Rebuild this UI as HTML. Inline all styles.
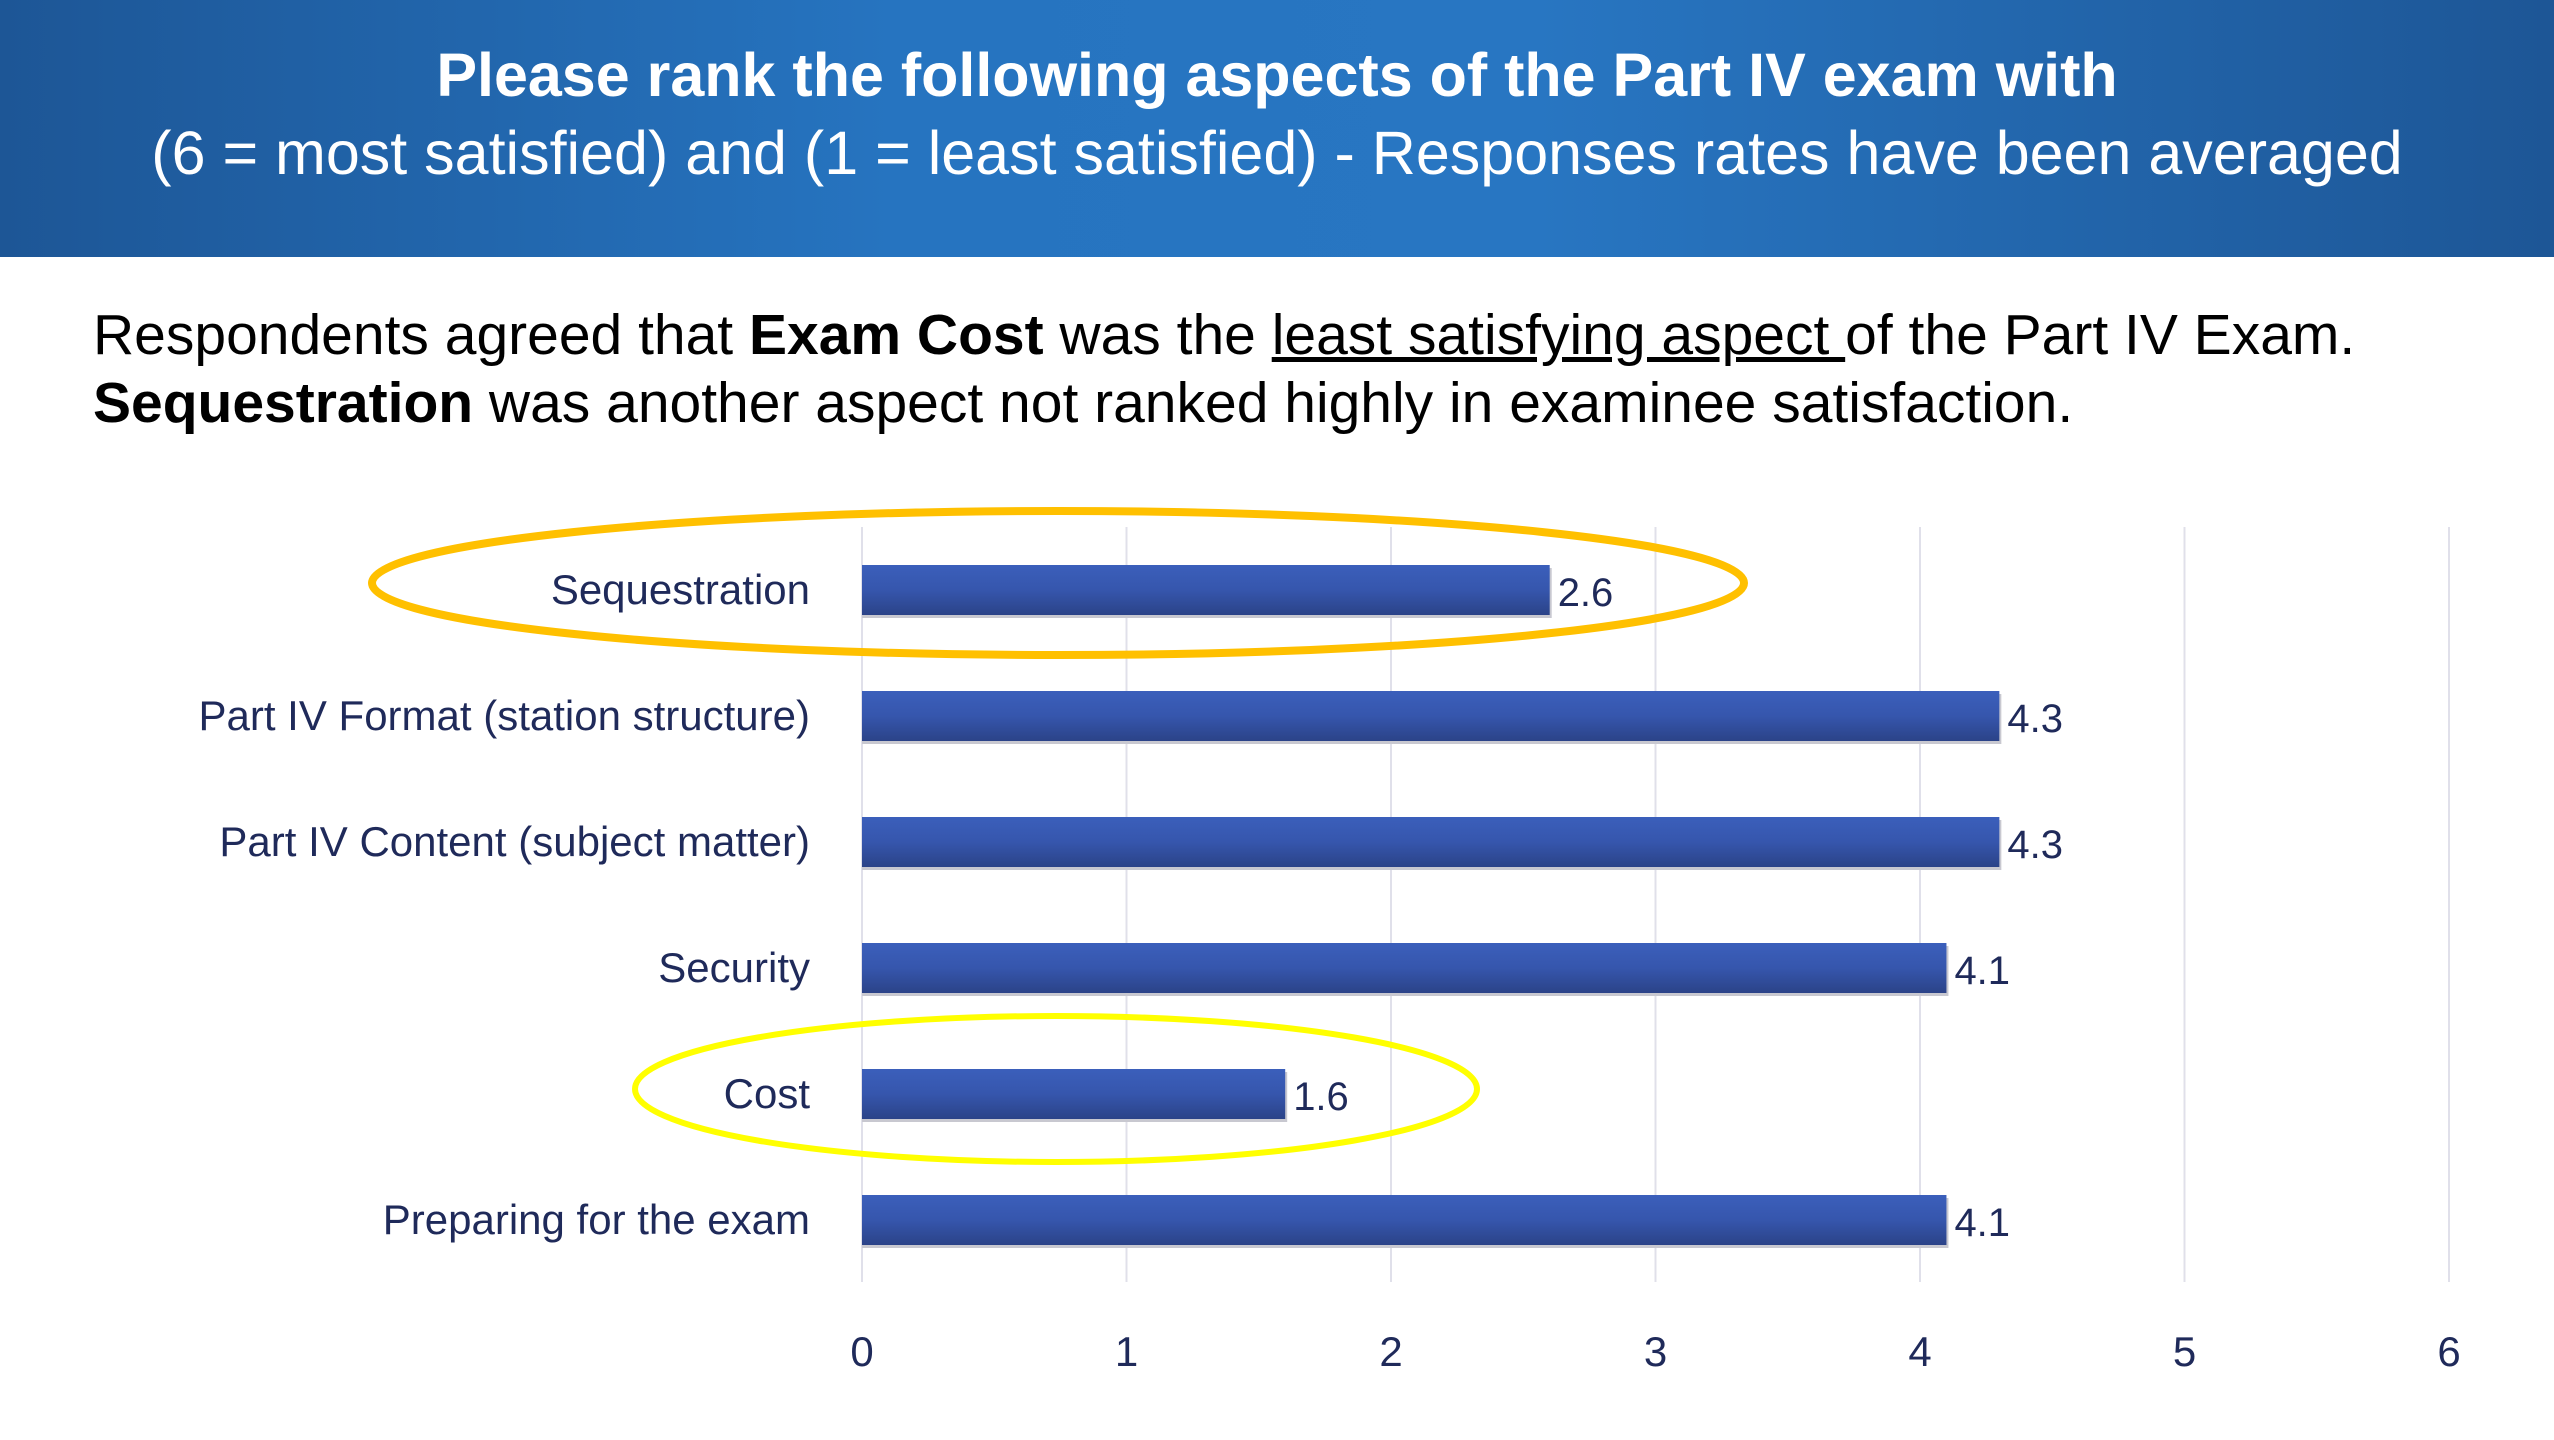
<!DOCTYPE html>
<html><head><meta charset="utf-8"><style>
html,body{margin:0;padding:0;width:2554px;height:1440px;overflow:hidden;background:#fff;font-family:"Liberation Sans",sans-serif}
#hdr{position:absolute;left:0;top:0;width:2554px;height:257px;background:linear-gradient(90deg,#1d5696 0%,#2674c0 35%,#2876c2 60%,#1d5696 100%);color:#fff;text-align:center}
#hdr div{position:absolute;left:0;width:100%;font-size:61px;white-space:nowrap}
.body{position:absolute;left:93px;font-size:57px;color:#000;white-space:nowrap}
</style></head><body>
<div id="hdr">
<div style="top:40px;font-weight:bold">Please rank the following aspects of the Part IV exam with</div>
<div style="top:118px">(6 = most satisfied) and (1 = least satisfied) - Responses rates have been averaged</div>
</div>
<div class="body" style="top:302px">Respondents agreed that <b>Exam Cost</b> was the <u>least satisfying aspect </u>of the Part IV Exam.</div>
<div class="body" style="top:370px"><b>Sequestration</b> was another aspect not ranked highly in examinee satisfaction.</div>
<svg id="chart" width="2554" height="1440" style="position:absolute;left:0;top:0">
<defs><linearGradient id="bg" x1="0" y1="0" x2="0" y2="1"><stop offset="0" stop-color="#3b5fbb"/><stop offset="0.5" stop-color="#3656ad"/><stop offset="1" stop-color="#2b4388"/></linearGradient></defs>
<g id="grid"></g><g id="bars"></g><g id="labels"></g>
<ellipse cx="1058" cy="583" rx="686" ry="72" fill="none" stroke="#FFC000" stroke-width="8"/>
<ellipse cx="1056" cy="1089" rx="421" ry="73" fill="none" stroke="#FFFF00" stroke-width="6"/>
</svg>
<script>
const categories=["Sequestration","Part IV Format (station structure)","Part IV Content (subject matter)","Security","Cost","Preparing for the exam"];
const values=[2.6,4.3,4.3,4.1,1.6,4.1];
const valueLabels=["2.6","4.3","4.3","4.1","1.6","4.1"];
const ticks=[0,1,2,3,4,5,6];
const NS="http://www.w3.org/2000/svg";
const x0=862,unit=264.5,yTop=527,yBot=1282,first=590,step=126,bh=50;
const xs=v=>x0+v*unit, ys=i=>first+i*step;
function mk(t,a,p){const e=document.createElementNS(NS,t);for(const k in a)e.setAttribute(k,a[k]);p.appendChild(e);return e;}
const g=document.getElementById('grid'),b=document.getElementById('bars'),l=document.getElementById('labels');
ticks.forEach(t=>{
 const ln=mk('line',{x1:xs(t),x2:xs(t),y1:yTop,y2:yBot,stroke:'#e0e0ea','stroke-width':2},g);
 
 
 const tx=mk('text',{x:xs(t),y:1366,'text-anchor':'middle','font-size':42,fill:'#1f2a5a','font-family':'Liberation Sans, sans-serif'},l);
 tx.textContent=t;
 
 
});
categories.forEach((c,i)=>{
 const cy=ys(i);
 const sh=mk('rect',{x:xs(0),y:cy-bh/2+3,width:xs(values[i])-xs(0)+2,height:bh,fill:'#c8c8d0'},b);
 
 
 const r=mk('rect',{x:xs(0),y:cy-bh/2,width:xs(values[i])-xs(0),height:bh,fill:'url(#bg)'},b);
 
 
 const ct=mk('text',{x:810,y:cy+14,'text-anchor':'end','font-size':42,fill:'#1f2a5a','font-family':'Liberation Sans, sans-serif'},l);
 ct.textContent=c;
 
 
 const vt=mk('text',{x:xs(values[i])+8,y:cy+16,'font-size':40,fill:'#1f2a5a','font-family':'Liberation Sans, sans-serif'},l);
 vt.textContent=valueLabels[i];
 
 
});
</script>
</body></html>
